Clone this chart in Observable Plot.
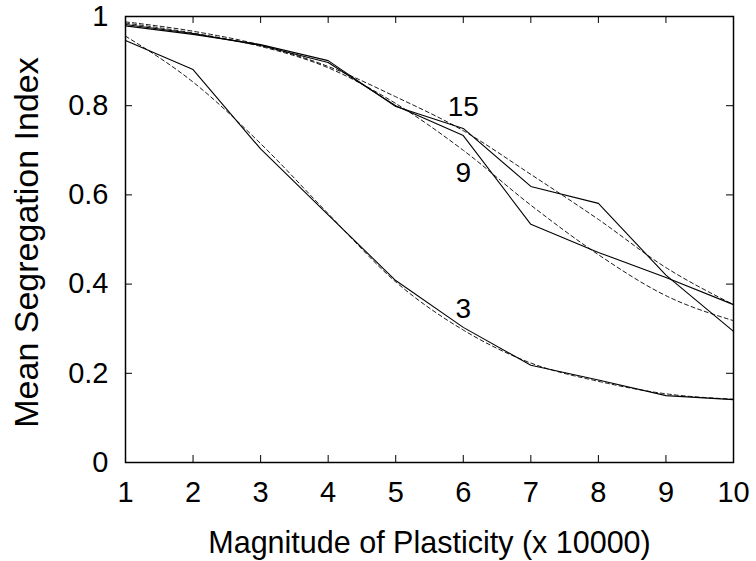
<!DOCTYPE html>
<html>
<head>
<meta charset="utf-8">
<script src="https://cdn.jsdelivr.net/npm/d3@7"></script>
<script src="https://cdn.jsdelivr.net/npm/@observablehq/plot@0.6"></script>
<style>
  html, body { margin: 0; padding: 0; background: #fff; }
  #chart svg { display: block; }
</style>
</head>
<body>
<div id="chart"></div>
<script>
// ---- data ----
const plasticity = [1, 2, 3, 4, 5, 6, 7, 8, 9, 10];
const seg3  = [0.946, 0.881, 0.703, 0.555, 0.408, 0.303, 0.218, 0.185, 0.150, 0.141];
const seg9  = [0.982, 0.962, 0.935, 0.897, 0.800, 0.733, 0.534, 0.471, 0.415, 0.354];
const seg15 = [0.979, 0.960, 0.937, 0.901, 0.798, 0.749, 0.619, 0.581, 0.420, 0.294];
const fit3  = [0.956, 0.853, 0.715, 0.558, 0.405, 0.297, 0.223, 0.182, 0.154, 0.142];
const fit9  = [0.985, 0.963, 0.933, 0.885, 0.805, 0.700, 0.577, 0.466, 0.374, 0.318];
const fit15 = [0.988, 0.967, 0.936, 0.888, 0.820, 0.744, 0.646, 0.545, 0.437, 0.354];
const seriesNames = ["3", "9", "15"];
const labelX = [6, 6, 6];
const labelY = [0.345, 0.650, 0.796];
const xTicks = [1, 2, 3, 4, 5, 6, 7, 8, 9, 10];
const yTicks = [0, 0.2, 0.4, 0.6, 0.8, 1];
const xTitle = "Magnitude of Plasticity (x 10000)";
const yTitle = "Mean Segregation Index";

// ---- tables built from arrays ----
const measured = [];
const fitted = [];
[[seg3, fit3, "3"], [seg9, fit9, "9"], [seg15, fit15, "15"]].forEach(([s, f, name]) => {
  plasticity.forEach((x, i) => {
    measured.push({series: name, x, y: s[i]});
    fitted.push({series: name, x, y: f[i]});
  });
});
const labels = seriesNames.map((t, i) => ({text: t, x: labelX[i], y: labelY[i]}));

const W = 756, H = 561;
const mL = 125, mR = 23, mT = 16, mB = 99;
const pw = W - mL - mR, ph = H - mT - mB;
const tick = 7;

const chart = Plot.plot({
  width: W,
  height: H,
  marginLeft: mL,
  marginRight: mR,
  marginTop: mT,
  marginBottom: mB,
  style: {fontFamily: "'Liberation Sans', Arial, sans-serif", fontSize: "29px", background: "#fff", color: "#000"},
  x: {domain: [1, 10]},
  y: {domain: [0, 1]},
  marks: [
    Plot.line(fitted, {x: "x", y: "y", z: "series", stroke: "#000", strokeWidth: 0.9, strokeDasharray: "4,3", curve: "monotone-x"}),
    Plot.line(measured, {x: "x", y: "y", z: "series", stroke: "#000", strokeWidth: 1.1}),
    Plot.text(labels, {x: "x", y: "y", text: "text", fontSize: 28, fill: "#000", lineAnchor: "middle"}),
    // inward ticks on all four sides
    Plot.ruleX(xTicks, {x: d => d, insetTop: ph - tick, stroke: "#000", strokeWidth: 1}),
    Plot.ruleX(xTicks, {x: d => d, insetBottom: ph - tick, stroke: "#000", strokeWidth: 1}),
    Plot.ruleY(yTicks, {y: d => d, insetRight: pw - tick, stroke: "#000", strokeWidth: 1}),
    Plot.ruleY(yTicks, {y: d => d, insetLeft: pw - tick, stroke: "#000", strokeWidth: 1}),
    Plot.axisX(xTicks, {tickSize: 0, tickPadding: 19, label: null, fontSize: 29, tickFormat: d => String(d)}),
    Plot.axisY(yTicks, {tickSize: 0, tickPadding: 17, label: null, fontSize: 29, tickFormat: d => String(d)}),
    Plot.text([xTitle], {frameAnchor: "bottom", dy: 90, fontSize: 30.5, fill: "#000", textAnchor: "middle", lineAnchor: "bottom"}),
    Plot.text([yTitle], {frameAnchor: "left", dx: -98, dy: 3, rotate: -90, fontSize: 34, fill: "#000", textAnchor: "middle", lineAnchor: "middle"}),
    Plot.frame({stroke: "#000", strokeWidth: 1.5})
  ]
});
document.getElementById("chart").appendChild(chart);
</script>
</body>
</html>
